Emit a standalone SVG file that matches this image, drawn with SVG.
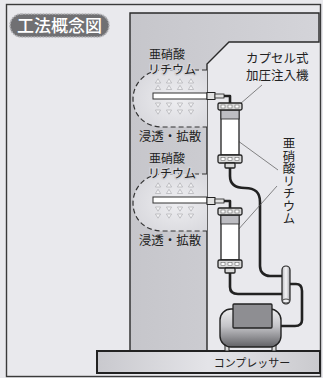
<svg xmlns="http://www.w3.org/2000/svg" width="323" height="378" viewBox="0 0 323 378">
  <defs>
    <linearGradient id="wallFill" x1="0" y1="0" x2="1" y2="0">
      <stop offset="0" stop-color="#c6c6cb"/>
      <stop offset="1" stop-color="#d4d4d9"/>
    </linearGradient>
    <linearGradient id="slabFill" x1="0" y1="0" x2="1" y2="0">
      <stop offset="0" stop-color="#c9c9ce"/>
      <stop offset="0.5" stop-color="#e4e4e8"/>
      <stop offset="1" stop-color="#cacace"/>
    </linearGradient>
    <radialGradient id="zoneFill" cx="0.6" cy="0.5" r="0.7">
      <stop offset="0" stop-color="#eeeef1"/>
      <stop offset="1" stop-color="#d6d6db"/>
    </radialGradient>
    <linearGradient id="bodyFill" x1="0" y1="0" x2="0" y2="1">
      <stop offset="0" stop-color="#eeeeef"/>
      <stop offset="0.45" stop-color="#c4c4c8"/>
      <stop offset="1" stop-color="#626266"/>
    </linearGradient>
    <linearGradient id="teeFill" x1="0" y1="0" x2="1" y2="0">
      <stop offset="0" stop-color="#bdbdc2"/>
      <stop offset="0.5" stop-color="#f4f4f6"/>
      <stop offset="1" stop-color="#a8a8ad"/>
    </linearGradient>
    <path id="up" d="M0,-2.2 L2.6,2 L-2.6,2 Z"/>
    <path id="down" d="M0,2.2 L2.6,-2 L-2.6,-2 Z"/>
  </defs>
  <style>
    .ln{fill:none;stroke:#2a2a2a;stroke-width:1.4}
    .dash{fill:none;stroke:#333;stroke-width:1.2;stroke-dasharray:5 3}
    .pipe{fill:none;stroke:#222;stroke-width:2.6;stroke-linecap:round;stroke-linejoin:round}
    .jp{font-family:"Noto Sans CJK JP","Noto Sans CJK SC",sans-serif;fill:#222}
    .halo{paint-order:stroke;stroke:#d2d2d7;stroke-width:3;stroke-linejoin:round}
    .arr{fill:#f2f2f4;stroke:#a4a4aa;stroke-width:0.6}
    .cap{fill:#dadada;stroke:#222;stroke-width:1.3}
    .win{fill:#ffffff;stroke:#555;stroke-width:0.5}
    .lead{stroke:#555;stroke-width:0.7;fill:none}
  </style>

  <!-- page background and frame -->
  <rect x="0" y="0" width="323" height="378" fill="#e9e9ed"/>
  <rect x="6.5" y="4.5" width="314" height="372" fill="#e9e9ed" stroke="#3a3a3a" stroke-width="1.4"/>

  <!-- title badge -->
  <g id="title">
    <rect x="10" y="14" width="99" height="23" rx="11.5" fill="#707073" stroke="#b2b2b6" stroke-width="1.6" stroke-dasharray="2 1"/>
    <text class="jp" x="59.5" y="32" font-size="17" text-anchor="middle" style="fill:#ffffff;font-weight:500">工法概念図</text>
  </g>

  <!-- concrete wall with chamfered top slab -->
  <g id="wall">
    <path d="M130,13 H319 V42 H229 L207,64 V351 H130 Z" fill="url(#wallFill)" stroke="#2a2a2a" stroke-width="1.4"/>
  </g>

  <!-- injection zone, upper -->
  <g id="zone-upper">
    <path d="M207,70 H163 C145,70 133,84 133,99 C133,115 145,127 162,127 H207 Z" fill="url(#zoneFill)"/>
    <g class="arr">
      <use href="#up" x="158" y="81"/><use href="#up" x="169" y="81"/><use href="#up" x="180" y="81"/><use href="#up" x="191" y="81"/>
      <use href="#up" x="158" y="87.5"/><use href="#up" x="169" y="87.5"/><use href="#up" x="180" y="87.5"/><use href="#up" x="191" y="87.5"/>
      <use href="#down" x="158" y="105"/><use href="#down" x="169" y="105"/><use href="#down" x="180" y="105"/><use href="#down" x="191" y="105"/>
      <use href="#down" x="158" y="112"/><use href="#down" x="169" y="112"/><use href="#down" x="180" y="112"/><use href="#down" x="191" y="112"/>
    </g>
    <path class="dash" d="M207,70 H163 C145,70 133,84 133,99 C133,115 145,127 162,127 H207"/>
    <rect x="153" y="93" width="54" height="6" fill="#ffffff" stroke="#333" stroke-width="1"/>
    <text class="jp" x="167" y="58.5" font-size="12" text-anchor="middle">亜硝酸</text>
    <text class="jp halo" x="172" y="74" font-size="12" text-anchor="middle">リチウム</text>
    <text class="jp" x="170" y="141" font-size="12.5" text-anchor="middle">浸透・拡散</text>
  </g>

  <!-- injection zone, lower -->
  <g id="zone-lower" transform="translate(0,104)">
    <path d="M207,70 H163 C145,70 133,84 133,99 C133,115 145,127 162,127 H207 Z" fill="url(#zoneFill)"/>
    <g class="arr">
      <use href="#up" x="158" y="81"/><use href="#up" x="169" y="81"/><use href="#up" x="180" y="81"/><use href="#up" x="191" y="81"/>
      <use href="#up" x="158" y="87.5"/><use href="#up" x="169" y="87.5"/><use href="#up" x="180" y="87.5"/><use href="#up" x="191" y="87.5"/>
      <use href="#down" x="158" y="105"/><use href="#down" x="169" y="105"/><use href="#down" x="180" y="105"/><use href="#down" x="191" y="105"/>
      <use href="#down" x="158" y="112"/><use href="#down" x="169" y="112"/><use href="#down" x="180" y="112"/><use href="#down" x="191" y="112"/>
    </g>
    <path class="dash" d="M207,70 H163 C145,70 133,84 133,99 C133,115 145,127 162,127 H207"/>
    <rect x="153" y="93" width="54" height="6" fill="#ffffff" stroke="#333" stroke-width="1"/>
    <text class="jp" x="167" y="58.5" font-size="12" text-anchor="middle">亜硝酸</text>
    <text class="jp halo" x="172" y="74" font-size="12" text-anchor="middle">リチウム</text>
    <text class="jp" x="170" y="141" font-size="12.5" text-anchor="middle">浸透・拡散</text>
  </g>

  <!-- base slab -->
  <g id="slab">
    <rect x="97" y="351" width="223" height="22" fill="url(#slabFill)" stroke="#222" stroke-width="2"/>
  </g>

  <!-- hoses and leader lines -->
  <g id="connectors">
    <path class="pipe" d="M224,96 H230 V103"/>
    <path class="pipe" d="M224,201 H230 V208"/>
    <path class="pipe" d="M230,168 V176 C230,185 236,188 245,188 C255,188 260,192 260,202 V266 C260,272 264,276 270,276 H282"/>
    <path class="pipe" d="M230,273 V287 C230,292 233,294 238,294 H282"/>
    <path class="pipe" d="M290,284 H296 C300,284 302,287 302,291 V320 C302,324 299,326 295,326 H281"/>
    <path class="lead" d="M262,85 L240,104"/>
    <path class="lead" d="M278,170 L234,138"/>
    <path class="lead" d="M277,186 L229,240"/>
  </g>

  <!-- nozzle fittings -->
  <g id="nozzle-upper">
    <rect x="207" y="92.5" width="8" height="7" fill="#e2e2e2" stroke="#222" stroke-width="1"/>
    <rect x="215" y="94" width="9" height="4" fill="#e2e2e2" stroke="#222" stroke-width="0.8"/>
  </g>
  <g id="nozzle-lower">
    <rect x="207" y="197.5" width="8" height="7" fill="#e2e2e2" stroke="#222" stroke-width="1"/>
    <rect x="215" y="199" width="9" height="4" fill="#e2e2e2" stroke="#222" stroke-width="0.8"/>
  </g>

  <!-- capsule injectors -->
  <g id="capsule-upper">
    <rect x="221" y="110" width="18" height="45" fill="#ffffff" stroke="#222" stroke-width="1.3"/>
    <rect x="221" y="110" width="18" height="9" fill="#bdbdc2" stroke="#222" stroke-width="0.8"/>
    <rect class="cap" x="218" y="103" width="24" height="7" rx="1.5"/>
    <rect class="win" x="221" y="105" width="4" height="3"/><rect class="win" x="228" y="105" width="4" height="3"/><rect class="win" x="235" y="105" width="4" height="3"/>
    <rect class="cap" x="218" y="155" width="24" height="8" rx="1.5"/>
    <rect class="win" x="221" y="157.5" width="4" height="3"/><rect class="win" x="228" y="157.5" width="4" height="3"/><rect class="win" x="235" y="157.5" width="4" height="3"/>
    <rect class="cap" x="225" y="163" width="10" height="5" rx="1"/>
  </g>
  <g id="capsule-lower">
    <rect x="221" y="215" width="18" height="45" fill="#ffffff" stroke="#222" stroke-width="1.3"/>
    <rect x="221" y="215" width="18" height="9" fill="#bdbdc2" stroke="#222" stroke-width="0.8"/>
    <rect class="cap" x="218" y="208" width="24" height="7" rx="1.5"/>
    <rect class="win" x="221" y="210" width="4" height="3"/><rect class="win" x="228" y="210" width="4" height="3"/><rect class="win" x="235" y="210" width="4" height="3"/>
    <rect class="cap" x="218" y="260" width="24" height="8" rx="1.5"/>
    <rect class="win" x="221" y="262.5" width="4" height="3"/><rect class="win" x="228" y="262.5" width="4" height="3"/><rect class="win" x="235" y="262.5" width="4" height="3"/>
    <rect class="cap" x="225" y="268" width="10" height="5" rx="1"/>
  </g>

  <!-- tee manifold -->
  <g id="tee">
    <rect x="282" y="266" width="8" height="38" rx="4" fill="url(#teeFill)" stroke="#222" stroke-width="1.2"/>
    <ellipse cx="286" cy="301" rx="3.5" ry="2" fill="#f0f0f2" stroke="#222" stroke-width="0.8"/>
  </g>

  <!-- compressor -->
  <g id="compressor">
    <rect x="225" y="345" width="4" height="6" fill="#ddd" stroke="#222" stroke-width="1"/>
    <rect x="272" y="345" width="4" height="6" fill="#ddd" stroke="#222" stroke-width="1"/>
    <rect x="220" y="309" width="61" height="38" rx="11" fill="url(#bodyFill)" stroke="#222" stroke-width="1.4"/>
    <rect x="233" y="304" width="39" height="24" rx="1" fill="#8e8e92" stroke="#222" stroke-width="1.3"/>
    <text class="jp" x="252" y="367" font-size="11" text-anchor="middle">コンプレッサー</text>
  </g>

  <!-- labels -->
  <g id="label-injector">
    <text class="jp" x="246" y="62.5" font-size="12.5">カプセル式</text>
    <text class="jp" x="246" y="80" font-size="12.5">加圧注入機</text>
  </g>
  <g id="label-agent">
    <text class="jp" x="289" y="137" font-size="12.5" writing-mode="vertical-rl">亜硝酸リチウム</text>
  </g>
</svg>
